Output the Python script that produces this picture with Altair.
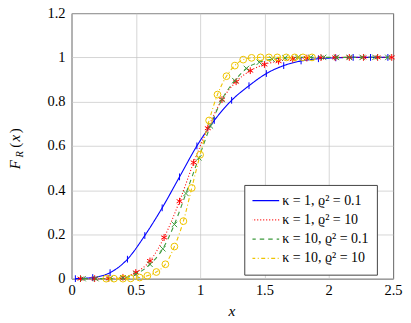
import altair as alt
import pandas as pd

FONT = "Liberation Serif"

series_labels = ["κ = 1, ϱ² = 0.1", "κ = 1, ϱ² = 10", "κ = 10, ϱ² = 0.1", "κ = 10, ϱ² = 10"]
series_colors = ["#0000ff", "#ff0000", "#3c9a3c", "#eec400"]
series_dashes = [[1, 0], [1, 2], [4.5, 4], [4, 2.5, 1, 2.5]]
series_shapes = [
    "M0,-1L0,1",
    "M0,-1L0,1M-0.866,-0.5L0.866,0.5M-0.866,0.5L0.866,-0.5",
    "M-0.8,-0.8L0.8,0.8M-0.8,0.8L0.8,-0.8",
    "circle",
]

blue_x = [0.03, 0.165, 0.30, 0.435, 0.57, 0.705, 0.84, 0.975, 1.11, 1.245, 1.38, 1.515, 1.65, 1.785, 1.92, 2.055, 2.19, 2.325, 2.46]
blue_y = [0.0, 0.005, 0.027, 0.088, 0.195, 0.32, 0.46, 0.60, 0.715, 0.806, 0.872, 0.927, 0.963, 0.984, 0.994, 0.998, 1.0, 1.0, 1.0]

red_x = [0.07, 0.18, 0.29, 0.40, 0.50, 0.61, 0.72, 0.84, 0.95, 1.06, 1.17, 1.28, 1.39, 1.50, 1.61, 1.72, 1.83, 1.94, 2.05, 2.16, 2.27, 2.38, 2.49]
red_y = [0.0, 0.0, 0.001, 0.006, 0.028, 0.08, 0.186, 0.35, 0.525, 0.68, 0.809, 0.89, 0.94, 0.968, 0.983, 0.992, 0.997, 0.999, 1.0, 1.0, 1.0, 1.0, 1.0]

green_x = [0.09, 0.19, 0.30, 0.40, 0.50, 0.61, 0.71, 0.80, 0.89, 0.99, 1.08, 1.17, 1.27, 1.36, 1.46, 1.56, 1.66, 1.76, 1.86, 1.96, 2.06, 2.16, 2.26, 2.36, 2.46]
green_y = [0.0, 0.0, 0.0, 0.003, 0.02, 0.065, 0.135, 0.245, 0.385, 0.546, 0.69, 0.81, 0.895, 0.95, 0.978, 0.992, 0.998, 1.0, 1.0, 1.0, 1.0, 1.0, 1.0, 1.0, 1.0]

yellow_x = [0.27, 0.33, 0.40, 0.46, 0.53, 0.59, 0.66, 0.73, 0.80, 0.87, 0.935, 1.0, 1.07, 1.135, 1.205, 1.27, 1.335, 1.40, 1.47, 1.535, 1.60, 1.67, 1.735, 1.80, 1.87]
yellow_y = [0.0, 0.0, 0.0, 0.001, 0.005, 0.013, 0.03, 0.065, 0.145, 0.26, 0.41, 0.56, 0.715, 0.832, 0.915, 0.963, 0.99, 0.998, 1.0, 1.0, 1.0, 1.0, 1.0, 1.0, 1.0]

x_ticks = [0, 0.5, 1, 1.5, 2, 2.5]
y_ticks = [0, 0.2, 0.4, 0.6, 0.8, 1, 1.2]
x_title = "x"
y_title_parts = ["F", "R", "(", "x", ")"]

rows = []
for lab, xs, ys in zip(series_labels, [blue_x, red_x, green_x, yellow_x], [blue_y, red_y, green_y, yellow_y]):
    for xv, yv in zip(xs, ys):
        rows.append({"series": lab, "x": xv, "y": yv})
df = pd.DataFrame(rows)

W, H = 322.5, 266.3
TICK_FS = 14.5

x_enc = alt.X("x:Q", scale=alt.Scale(domain=[0, 2.5], nice=False, zero=False),
              axis=alt.Axis(values=x_ticks, format="~g", title=None, grid=True, ticks=False, domain=False,
                            labelFont=FONT, labelFontSize=TICK_FS, labelColor="black", labelPadding=5,
                            labelFlush=False, labelOverlap=False, gridColor="#c4c4c4", gridWidth=0.7))
y_enc = alt.Y("y:Q", scale=alt.Scale(domain=[0, 1.2], nice=False, zero=False),
              axis=alt.Axis(values=y_ticks, format="~g", title=None, grid=True, ticks=False, domain=False,
                            labelFont=FONT, labelFontSize=TICK_FS, labelColor="black", labelPadding=6.5,
                            labelFlush=False, labelOverlap=False, gridColor="#c4c4c4", gridWidth=0.7))

leg = alt.Legend(title=None, orient="none", legendX=173.3, legendY=172.3, symbolType="stroke",
                 symbolSize=784, symbolStrokeWidth=1.2, clipHeight=15, rowPadding=4.3, padding=8.2,
                 symbolOffset=-2.2, labelOffset=2.1, labelFont=FONT, labelFontSize=14, labelColor="black",
                 fillColor="white", strokeColor="#444", cornerRadius=0, labelLimit=0)

color_enc = alt.Color("series:N", scale=alt.Scale(domain=series_labels, range=series_colors), legend=leg)
dash_enc = alt.StrokeDash("series:N", scale=alt.Scale(domain=series_labels, range=series_dashes), legend=leg)

lines = alt.Chart(df).mark_line(interpolate="monotone", strokeWidth=1.1, strokeCap="butt").encode(
    x=x_enc, y=y_enc, color=color_enc, strokeDash=dash_enc)

point_layers = []
for lab, col, shp in zip(series_labels, series_colors, series_shapes):
    point_layers.append(
        alt.Chart(df).transform_filter(alt.datum.series == lab).mark_point(
            shape=shp, stroke=col, fill=None, filled=False, opacity=1, strokeWidth=1, size=46
        ).encode(x=x_enc, y=y_enc)
    )

one = pd.DataFrame({"k": [0]})

def txt(t, px, py, size, style, angle=0, align="center"):
    return alt.Chart(one).mark_text(text=t, font=FONT, fontSize=size, fontStyle=style, angle=angle,
                                    align=align, baseline="alphabetic", color="black").encode(
        x=alt.value(px), y=alt.value(py))

xt = txt(x_title, 160.8, 304.0, 15.5, "italic")
BX = -51.5
yparts = [
    txt(y_title_parts[0], BX, 152.0, 15, "italic", 270),
    txt(y_title_parts[1], BX + 3.0, 141.5, 10.5, "italic", 270),
    txt(y_title_parts[2], BX, 132.5, 15, "normal", 270),
    txt(y_title_parts[3], BX, 125.5, 15, "italic", 270),
    txt(y_title_parts[4], BX, 118.0, 15, "normal", 270),
]

chart = alt.layer(lines, *point_layers, xt, *yparts).properties(
    width=W, height=H,
    autosize=alt.AutoSizeParams(type="none"),
    padding={"left": 63.7, "top": 4.7, "right": 10, "bottom": 39},
    background="white",
).configure_view(stroke="#555", strokeWidth=1)

chart.save("out.html", embed_options={"renderer": "svg", "actions": False})
